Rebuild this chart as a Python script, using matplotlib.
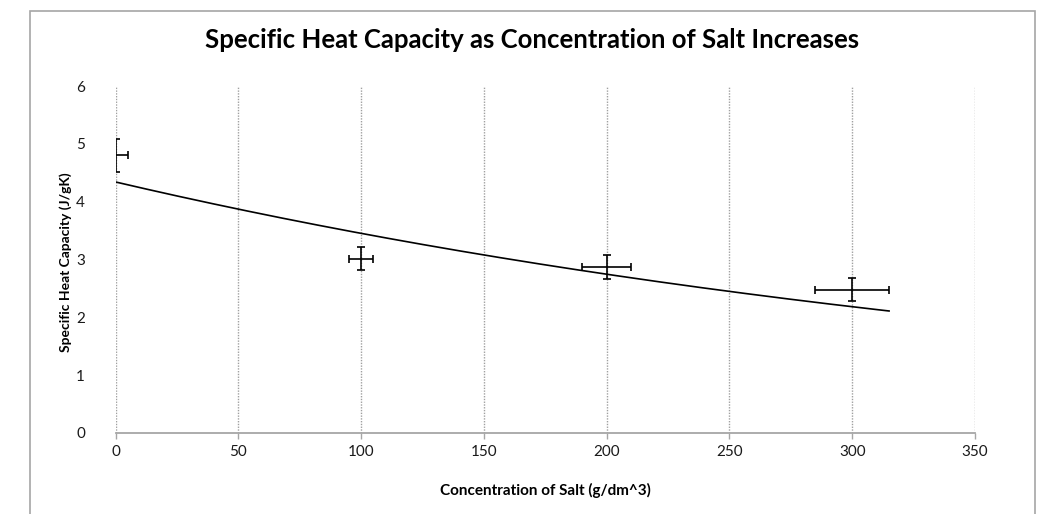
import matplotlib
matplotlib.use("Agg")
import matplotlib.pyplot as plt
from matplotlib.patches import Rectangle
import numpy as np

# Data
concentration = [0, 100, 200, 300]
heat_capacity = [4.80, 3.01, 2.87, 2.48]
x_err = [5, 5, 10, 15]
y_err = [0.29, 0.20, 0.20, 0.20]

# Exponential trendline y = a * exp(b * x)
trend_a = 4.34
trend_b = -0.00229
trend_x_range = [0, 315]

x_ticks = [0, 50, 100, 150, 200, 250, 300, 350]
y_ticks = [0, 1, 2, 3, 4, 5, 6]

plt.rcParams['font.family'] = ['Lato', 'DejaVu Sans']

W, H = 1045, 514
fig = plt.figure(figsize=(W / 100, H / 100), dpi=100)
ax = fig.add_axes([115.7 / W, 1 - 433 / H, (975 - 115.7) / W, (433 - 86) / H])

# outer chart border (bottom edge outside the image)
fig.add_artist(Rectangle((30 / W, -0.2), (1035 - 30) / W, (1 - 11 / H) + 0.2,
                         transform=fig.transFigure, fill=False,
                         edgecolor='#a6a6a6', linewidth=1.2, clip_on=False))

ax.set_xlim(0, 350)
ax.set_ylim(0, 6)
ax.set_xticks(x_ticks)
ax.set_yticks(y_ticks)
ax.tick_params(axis='x', direction='out', length=4, width=1, color='#a6a6a6',
               labelsize=11, pad=5, labelcolor='#1a1a1a')
ax.tick_params(axis='y', length=0, labelsize=11, pad=22, labelcolor='#1a1a1a')

for s in ['top', 'right', 'left']:
    ax.spines[s].set_visible(False)
ax.spines['bottom'].set_color('#a6a6a6')
ax.spines['bottom'].set_linewidth(1.3)

ax.xaxis.grid(True, linestyle=(0, (1, 1)), color='#a0a0a0', linewidth=1)
ax.yaxis.grid(False)
ax.set_axisbelow(True)

# trendline
tx = np.linspace(trend_x_range[0], trend_x_range[1], 200)
ax.plot(tx, trend_a * np.exp(trend_b * tx), color='black', linewidth=1.2, zorder=3)

ax.errorbar(concentration, heat_capacity, xerr=x_err, yerr=y_err, fmt='none',
            ecolor='black', elinewidth=1.2, capsize=3, capthick=1.2, zorder=4)

fig.text(532 / W, 1 - 40 / H, 'Specific Heat Capacity as Concentration of Salt Increases',
         ha='center', va='center', fontsize=18.5, fontweight='bold')
fig.text(545 / W, 1 - 490 / H, 'Concentration of Salt (g/dm^3)',
         ha='center', va='center', fontsize=11, fontweight='bold')
fig.text(66 / W, 1 - 262 / H, 'Specific Heat Capacity (J/gK)',
         ha='center', va='center', fontsize=10, fontweight='bold', rotation=90)

fig.savefig('out.png', dpi=100)
